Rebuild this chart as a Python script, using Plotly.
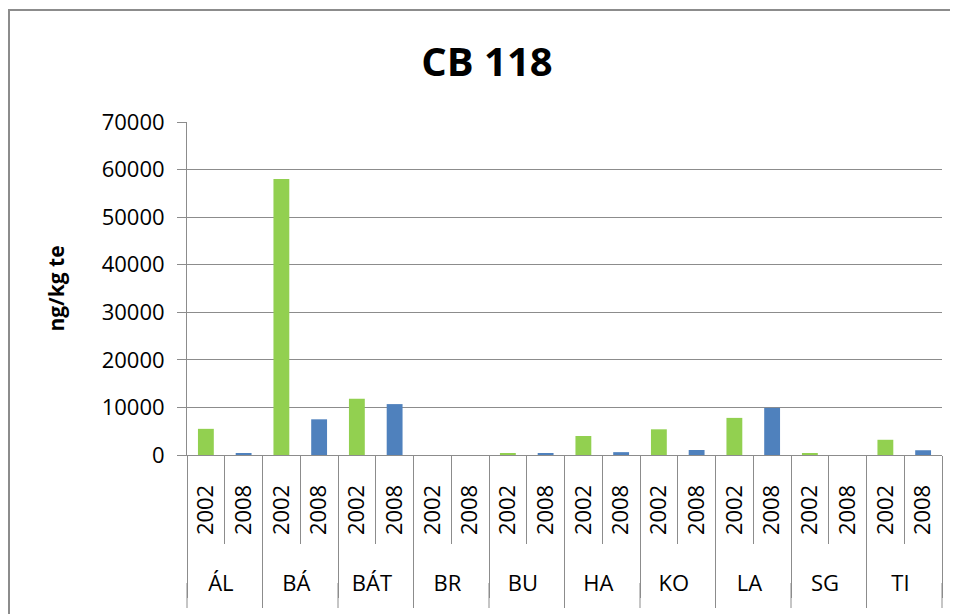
import plotly.graph_objects as go

groups = ["ÁL", "BÁ", "BÁT", "BR", "BU", "HA", "KO", "LA", "SG", "TI"]
years = ["2002", "2008"]
values_2002 = [5500, 58000, 11800, 0, 300, 4000, 5400, 7800, 300, 3200]
values_2008 = [300, 7500, 10700, 0, 300, 600, 1050, 9900, 0, 1000]
y_ticks = [0, 10000, 20000, 30000, 40000, 50000, 60000, 70000]

GREEN = "#92D050"
BLUE = "#4F81BD"
GRID = "#8C8C8C"

x_outer, x_inner, vals, colors = [], [], [], []
for g, v2, v8 in zip(groups, values_2002, values_2008):
    for yr, v, c in ((years[0], v2, GREEN), (years[1], v8, BLUE)):
        x_outer.append(g)
        x_inner.append(yr)
        vals.append(v)
        colors.append(c)

fig = go.Figure()
fig.add_trace(go.Bar(
    x=[x_outer, x_inner],
    y=vals,
    marker=dict(color=colors, line=dict(width=0)),
    width=0.42,
    showlegend=False,
))

W, H = 950, 606
L, R, T, B = 179, 934, 114, 447
FONT = "Open Sans"
fig.update_layout(
    width=W, height=H,
    margin=dict(l=L, r=W - R, t=T, b=H - B),
    paper_bgcolor="white", plot_bgcolor="white",
    font=dict(family=FONT, size=22, color="#000000"),
    title=dict(text="<b>CB 118</b>", font=dict(family=FONT, size=40, color="#000"),
               x=479 / W, xref="container", xanchor="center",
               y=1 - 54 / H, yref="container", yanchor="middle"),
)
fig.update_yaxes(
    range=[0, 70000], tickvals=y_ticks, ticktext=[str(t) for t in y_ticks],
    showgrid=True, gridcolor=GRID, gridwidth=1,
    showline=True, linecolor=GRID, linewidth=1,
    ticks="outside", ticklen=9, tickcolor=GRID,
    ticklabelstandoff=8,
    zeroline=False,
    tickfont=dict(family=FONT, size=22, color="#000"),
    title=dict(text="<b>ng/kg te</b>", font=dict(family=FONT, size=21, color="#000"), standoff=31),
)
fig.update_xaxes(
    type="multicategory",
    showline=True, linecolor=GRID, linewidth=1,
    ticks="outside", ticklen=88, tickcolor=GRID,
    tickangle=-90,
    ticklabelstandoff=20,
    tickprefix="\u00a0" * 6,
    showdividers=True, dividercolor=GRID, dividerwidth=1,
    tickfont=dict(family=FONT, size=22, color="#000"),
    showgrid=False,
)

pw, ph = R - L, B - T
# extend group dividers toward the bottom of the chart area
for k in range(len(groups) + 1):
    fig.add_shape(type="line", xref="paper", yref="paper",
                  x0=k / len(groups), x1=k / len(groups),
                  y0=(B - 575) / ph, y1=(B - 600) / ph,
                  line=dict(color=GRID, width=1))
# chart-area border
fig.add_shape(type="rect", xref="paper", yref="paper",
              x0=(1 - L) / pw, x1=(W + 20 - L) / pw,
              y0=(B - (H + 20)) / ph, y1=(B - 2) / ph,
              line=dict(color="#8C8C8C", width=2), fillcolor="rgba(0,0,0,0)", layer="below")

fig.write_html("out.html")
